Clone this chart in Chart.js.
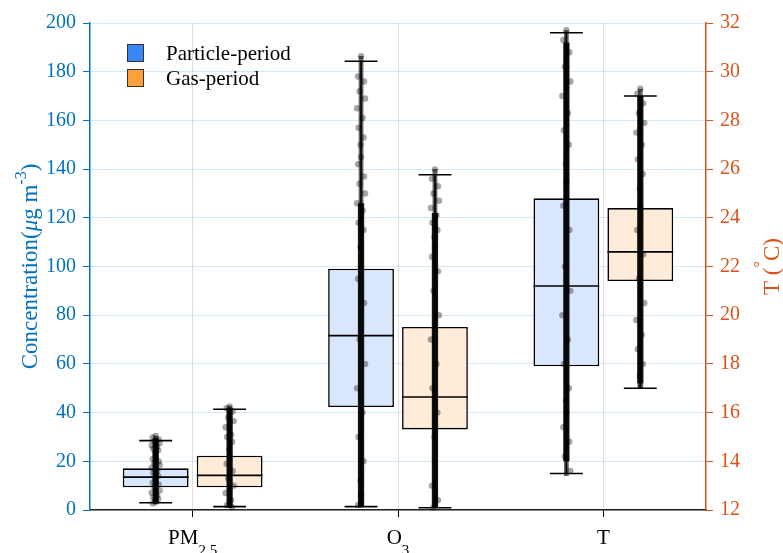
<!DOCTYPE html>
<html>
<head>
<meta charset="utf-8">
<script src="https://cdn.jsdelivr.net/npm/chart.js@4"></script>
<style>
  html, body { margin: 0; padding: 0; background: #fff; }
</style>
</head>
<body>
<canvas id="boxChart" width="783" height="553"></canvas>
<script>
// categories and the axis each one is read against
var categories = ['PM2.5', 'O3', 'T'];
var catAxis = ['y', 'y', 'y2'];
var periods = ['Particle-period', 'Gas-period'];

// tick labels of the two value axes
var concTicks = [0, 20, 40, 60, 80, 100, 120, 140, 160, 180, 200];
var tempTicks = [12, 14, 16, 18, 20, 22, 24, 26, 28, 30, 32];

// box statistics [min, q1, median, q3, max]; PM2.5 and O3 in ug m-3, T in degC
var particleStats = [
  [3.0, 9.3, 13.5, 17.1, 28.5],
  [1.4, 42.3, 71.6, 99.1, 184.3],
  [13.5, 17.9, 21.2, 24.8, 31.6]
];
var gasStats = [
  [1.4, 9.3, 14.2, 22.3, 41.4],
  [0.9, 33.1, 46.4, 75.2, 137.7],
  [17.0, 21.4, 22.6, 24.4, 29.0]
];

// dense part of the observations and their full spread
var particleCore = [[2.8, 29.5], [1.5, 126], [14.0, 31.2]];
var particleSpread = [[2.5, 30.5], [1.0, 186.4], [13.4, 31.7]];
var gasCore = [[1.0, 42.0], [1.0, 122], [17.2, 29.0]];
var gasSpread = [[0.8, 42.8], [0.8, 140], [17.0, 29.3]];

// single observations around the dense part
var particleObs = [
  [30.4, 29.8, 29.0, 28.2, 27.5, 26.6, 26, 25.2, 24.5, 23.4, 22, 21, 20, 19.2, 18.5, 17.4, 16,
   15.2, 14, 13.1, 12, 11.2, 10.5, 9.4, 8, 7.1, 6, 5.2, 4.5, 3.8, 3.2, 2.8],
  [186.4, 178, 176, 172, 169, 165, 161, 157, 153, 150, 145, 142, 137, 134, 130, 126, 123, 118,
   115, 108, 100, 95, 85, 70, 60, 50, 40, 30, 20, 12, 6, 2],
  [31.7, 31.3, 30.8, 30.2, 29.6, 29, 28.3, 27.6, 27, 26.2, 25.5, 24.5, 23.5, 22, 21, 20, 19,
   18, 17, 16.5, 16, 15.4, 14.8, 14.2, 13.6]
];
var gasObs = [
  [42.5, 41.8, 40.5, 38, 36.5, 34, 31, 30, 28, 25, 22, 19, 16, 13, 10, 7, 4, 2, 1.2],
  [139.9, 136, 133, 130, 127, 124, 121, 118, 115, 112, 108, 104, 98, 90, 80, 70, 60, 50,
   40, 30, 20, 10, 4, 1],
  [29.3, 29.1, 28.7, 28.3, 27.9, 27.5, 27, 26.4, 25.8, 25.2, 24.5, 23.5, 22.5, 21.5, 20.5,
   19.8, 19.2, 18.6, 18, 17.5, 17.1]
];

var BLUE = '#0072BD';
var ORANGE = '#D95319';
var SERIF = '"Liberation Serif", "Times New Roman", serif';
var periodColor = ['rgb(59,134,246)', 'rgb(252,160,60)'];
var periodFill = ['rgb(216,231,253)', 'rgb(254,236,216)'];
var jitter = [0, -3, 3, -1.5, 4, -4, 1.5, -2.5, 2.5, -0.5];

function onAxis(ranges, axis) {
  return categories.map(function (c, i) { return catAxis[i] === axis ? ranges[i] : null; });
}

function layer(kind, p, ranges, axis, extra) {
  return Object.assign({
    label: periods[p] + ' ' + kind,
    kind: kind,
    data: onAxis(ranges, axis),
    yAxisID: axis,
    stack: 'p' + p,
    categoryPercentage: 0.72,
    borderWidth: 0
  }, extra);
}

var statsList = [particleStats, gasStats];
var coreList = [particleCore, gasCore];
var spreadList = [particleSpread, gasSpread];
var obsList = [particleObs, gasObs];

var datasets = [];
[0, 1].forEach(function (p) {
  ['y', 'y2'].forEach(function (axis) {
    var stats = statsList[p];
    datasets.push(layer('box', p, stats.map(function (s) { return [s[1], s[3]]; }), axis, {
      stats: onAxis(stats, axis),
      obs: onAxis(obsList[p], axis),
      backgroundColor: periodFill[p],
      borderColor: '#000',
      borderWidth: 1.6,
      borderSkipped: false,
      barPercentage: 0.89,
      order: 3
    }));
    datasets.push(layer('spread', p, spreadList[p], axis, {
      backgroundColor: 'rgba(0,0,0,0.6)',
      barPercentage: 0.065,
      order: 2
    }));
    datasets.push(layer('core', p, coreList[p], axis, {
      backgroundColor: 'rgba(0,0,0,0.9)',
      barPercentage: 0.085,
      order: 1
    }));
  });
});

// draw text made of runs (sub/superscripts, italics) centred on (x, y)
function drawRuns(ctx, runs, x, y, angle, color) {
  ctx.save();
  ctx.translate(x, y);
  ctx.rotate(angle);
  ctx.fillStyle = color;
  ctx.textBaseline = 'alphabetic';
  ctx.textAlign = 'left';
  var total = 0;
  runs.forEach(function (r) {
    ctx.font = (r.italic ? 'italic ' : '') + r.size + 'px ' + SERIF;
    r.w = ctx.measureText(r.text).width;
    total += r.w;
  });
  var cx = -total / 2;
  runs.forEach(function (r) {
    ctx.font = (r.italic ? 'italic ' : '') + r.size + 'px ' + SERIF;
    ctx.fillText(r.text, cx, r.dy || 0);
    cx += r.w;
  });
  ctx.restore();
}

var boxParts = {
  id: 'boxParts',
  afterDatasetDraw: function (chart, args) {
    var ds = chart.data.datasets[args.index];
    if (ds.kind !== 'box') return;
    var ctx = chart.ctx;
    var yS = chart.scales[ds.yAxisID];
    ctx.save();
    ctx.strokeStyle = '#000';
    ctx.lineWidth = 1.6;
    args.meta.data.forEach(function (el, i) {
      var s = ds.stats[i];
      if (!s) return;
      var x = el.x, half = el.width / 2, cap = el.width / 4;
      var py = s.map(function (v) { return yS.getPixelForValue(v); });
      ctx.beginPath();
      ctx.moveTo(x, py[0]); ctx.lineTo(x, py[1]);
      ctx.moveTo(x, py[3]); ctx.lineTo(x, py[4]);
      ctx.moveTo(x - cap, py[0]); ctx.lineTo(x + cap, py[0]);
      ctx.moveTo(x - cap, py[4]); ctx.lineTo(x + cap, py[4]);
      ctx.moveTo(x - half, py[2]); ctx.lineTo(x + half, py[2]);
      ctx.stroke();
    });
    ctx.restore();
  },
  afterDatasetsDraw: function (chart) {
    var ctx = chart.ctx;
    ctx.save();
    ctx.fillStyle = 'rgba(0,0,0,0.35)';
    chart.data.datasets.forEach(function (ds, d) {
      if (ds.kind !== 'box') return;
      var meta = chart.getDatasetMeta(d);
      var yS = chart.scales[ds.yAxisID];
      meta.data.forEach(function (el, i) {
        var obs = ds.obs[i];
        if (!obs) return;
        obs.forEach(function (v, j) {
          ctx.beginPath();
          ctx.arc(el.x + jitter[j % jitter.length], yS.getPixelForValue(v), 3.2, 0, Math.PI * 2);
          ctx.fill();
        });
      });
    });
    ctx.restore();
  },
  afterDraw: function (chart) {
    var ctx = chart.ctx;
    var xS = chart.scales.x;
    var midY = (chart.chartArea.top + chart.chartArea.bottom) / 2;
    var labelRuns = [
      [{ text: 'PM', size: 21 }, { text: '2.5', size: 15, dy: 11 }],
      [{ text: 'O', size: 21 }, { text: '3', size: 15, dy: 11 }],
      [{ text: 'T', size: 21 }]
    ];
    categories.forEach(function (c, i) {
      drawRuns(ctx, labelRuns[i], xS.getPixelForTick(i), 544, 0, '#000');
    });

    drawRuns(ctx, [
      { text: 'Concentration(', size: 23 },
      { text: '\u03bc', size: 23, italic: true },
      { text: 'g m', size: 23 },
      { text: '-3', size: 16, dy: -11 },
      { text: ')', size: 23 }
    ], 37, midY, -Math.PI / 2, BLUE);

    drawRuns(ctx, [
      { text: 'T (', size: 23 },
      { text: '\u00b0', size: 16, dy: -14 },
      { text: 'C)', size: 23 }
    ], 779, midY, -Math.PI / 2, ORANGE);

    // legend
    ctx.save();
    ctx.font = '21px ' + SERIF;
    ctx.textBaseline = 'alphabetic';
    periods.forEach(function (name, p) {
      var top = 44 + p * 25;
      ctx.fillStyle = periodColor[p];
      ctx.fillRect(127, top, 16, 17);
      ctx.strokeStyle = '#333';
      ctx.lineWidth = 1;
      ctx.strokeRect(127.5, top + 0.5, 16, 17);
      ctx.fillStyle = '#000';
      ctx.fillText(name, 166, top + 15.5);
    });
    ctx.restore();
  }
};

var tickFont = { family: SERIF, size: 20 };

new Chart(document.getElementById('boxChart').getContext('2d'), {
  type: 'bar',
  data: { labels: categories, datasets: datasets },
  options: {
    responsive: false,
    animation: false,
    layout: { padding: { top: 23, left: 0, right: 0, bottom: 0 } },
    plugins: { legend: { display: false }, tooltip: { enabled: false } },
    scales: {
      x: {
        offset: true,
        grid: { offset: false, color: 'rgba(0,0,0,0.12)', tickColor: '#000', tickLength: 7 },
        border: { color: '#222', width: 1.5 },
        ticks: { callback: function () { return ''; }, padding: 0 },
        afterFit: function (s) { s.height = 43; }
      },
      y: {
        position: 'left',
        stacked: false,
        min: concTicks[0],
        max: concTicks[concTicks.length - 1],
        ticks: { stepSize: concTicks[1] - concTicks[0], color: BLUE, font: tickFont, padding: 7 },
        grid: { color: 'rgba(0,114,189,0.16)', tickColor: BLUE, tickLength: 7 },
        border: { color: BLUE, width: 1.5 },
        afterFit: function (s) { s.width = 90; }
      },
      y2: {
        position: 'right',
        stacked: false,
        min: tempTicks[0],
        max: tempTicks[tempTicks.length - 1],
        ticks: { stepSize: tempTicks[1] - tempTicks[0], color: ORANGE, font: tickFont, padding: 7 },
        grid: { drawOnChartArea: false, tickColor: ORANGE, tickLength: 7 },
        border: { color: ORANGE, width: 1.5 },
        afterFit: function (s) { s.width = 77; }
      }
    }
  },
  plugins: [boxParts]
});
</script>
</body>
</html>
